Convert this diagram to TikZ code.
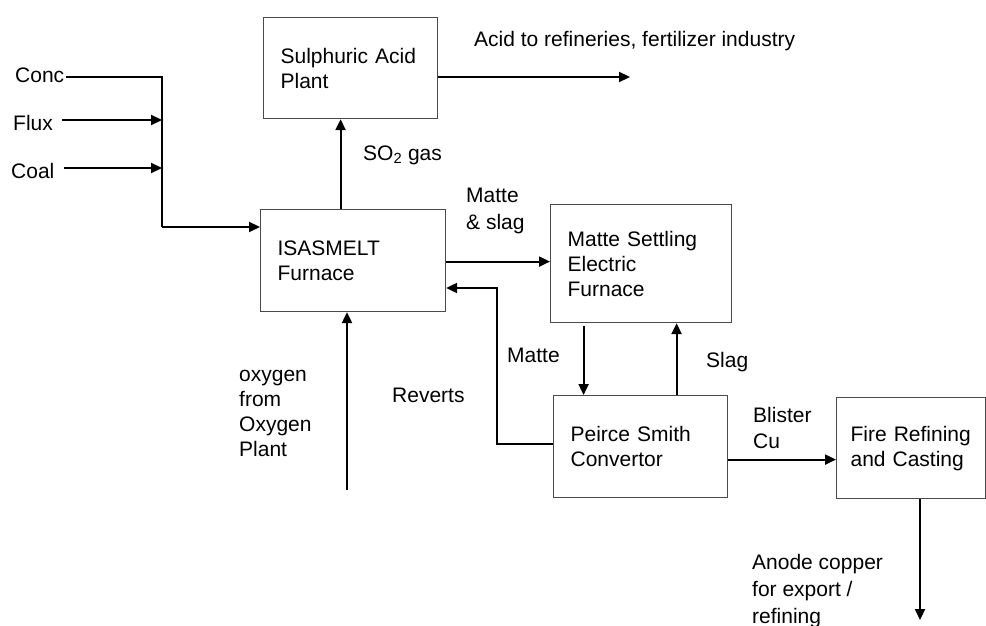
\documentclass[tikz,border=0pt]{standalone}
\usepackage{fontspec}
\setmainfont{Liberation Sans}
\usetikzlibrary{arrows.meta,positioning}
\definecolor{flowBlack}{HTML}{000000}
\definecolor{boxGrey}{HTML}{4a4a4a}
\tikzset{
  >={Triangle[length=11pt,width=10pt]},
  proc/.style={draw=boxGrey, line width=1.2pt, align=left, anchor=north west,
              inner xsep=17pt, inner ysep=0pt, font=\fontsize{21}{25}\selectfont},
  lbl/.style={align=left, anchor=base west, inner sep=0pt,
              font=\fontsize{21}{25}\selectfont},
  flow/.style={->, draw=flowBlack, line width=2.2pt},
  feed/.style={draw=flowBlack, line width=2.2pt},
}
\begin{document}
\begin{tikzpicture}[x=1pt,y=-1pt]
  \useasboundingbox (0,0) rectangle (986,626);
  % process units
  \node[proc, text width=140pt, minimum height=101pt] (acid) at (263,17)
       {Sulphuric Acid\\Plant};
  \node[proc, text width=151pt, minimum height=102pt] (isa) at (260,209)
       {ISASMELT\\Furnace};
  \node[proc, text width=147pt, minimum height=118pt] (mset) at (550,204)
       {Matte Settling\\Electric\\Furnace};
  \node[proc, text width=140pt, minimum height=102pt] (psc) at (553,395)
       {Peirce Smith\\Convertor};
  \node[proc, text width=121pt, inner xsep=14pt, minimum height=101pt] (fire) at (836,397)
       {Fire Refining\\and Casting};
  % feed labels and junctions
  \node[lbl] (conc) at (15,82) {Conc};
  \node[lbl] (flux) at (13,130) {Flux};
  \node[lbl] (coal) at (11,178) {Coal};
  \coordinate (jconc) at (162,77);
  \coordinate (jflux) at (162,120);
  \coordinate (jcoal) at (162,168);
  \coordinate (jfeed) at (162,227);
  \draw[feed] ([xshift=2pt]conc.east |- jconc) -- (jconc) -- (jfeed);
  \draw[flow] (jfeed) -- (jfeed -| isa.west);
  \draw[flow] ([xshift=9pt]flux.east |- jflux) -- (jflux);
  \draw[flow] ([xshift=9pt]coal.east |- jcoal) -- (jcoal);
  % gas to acid plant
  \draw[flow] ([xshift=-12.5pt]isa.north) -- ([xshift=-12.5pt]isa.north |- acid.south);
  \node[lbl] (so2) at (363,160) {SO\textsubscript{2} gas};
  \coordinate (acidout) at (630,77);
  \draw[flow] (acidout -| acid.east) -- (acidout);
  \node[lbl] (acidtxt) at (474,47) {Acid to refineries, fertilizer industry};
  % oxygen
  \coordinate (oxin) at (347,490);
  \draw[flow] (oxin) -- (oxin |- isa.south);
  \node[lbl] (oxy) at (239,456) {oxygen\\from\\Oxygen\\Plant};
  % matte and slag streams
  \draw[flow] ([yshift=-1pt]isa.east) -- ([yshift=-1pt]isa.east -| mset.west);
  \node[lbl, font=\fontsize{21}{27}\selectfont] (mslag) at (466,229) {Matte\\\& slag};
  \coordinate (rvt) at (497,288);
  \draw[flow] ([yshift=3pt]psc.west) -| (rvt) -- (rvt -| isa.east);
  \node[lbl] (reverts) at (392,402) {Reverts};
  \draw[flow] ([xshift=-57.5pt,yshift=-3pt]mset.south) -- ([xshift=-57.5pt]mset.south |- psc.north);
  \node[lbl] (matte) at (507,362) {Matte};
  \draw[flow] ([xshift=36pt]psc.north) -- ([xshift=36pt]psc.north |- mset.south);
  \node[lbl] (slag) at (706,367) {Slag};
  % products
  \draw[flow] ([yshift=-13pt]psc.east) -- ([yshift=-13pt]psc.east -| fire.west);
  \node[lbl, font=\fontsize{21}{26}\selectfont] (blister) at (753,448) {Blister\\Cu};
  \coordinate (anode) at (920,620);
  \draw[flow] (anode |- fire.south) -- (anode);
  \node[lbl, font=\fontsize{21}{27}\selectfont] (anodetxt) at (752,623) {Anode copper\\for export /\\refining};
\end{tikzpicture}
\end{document}
